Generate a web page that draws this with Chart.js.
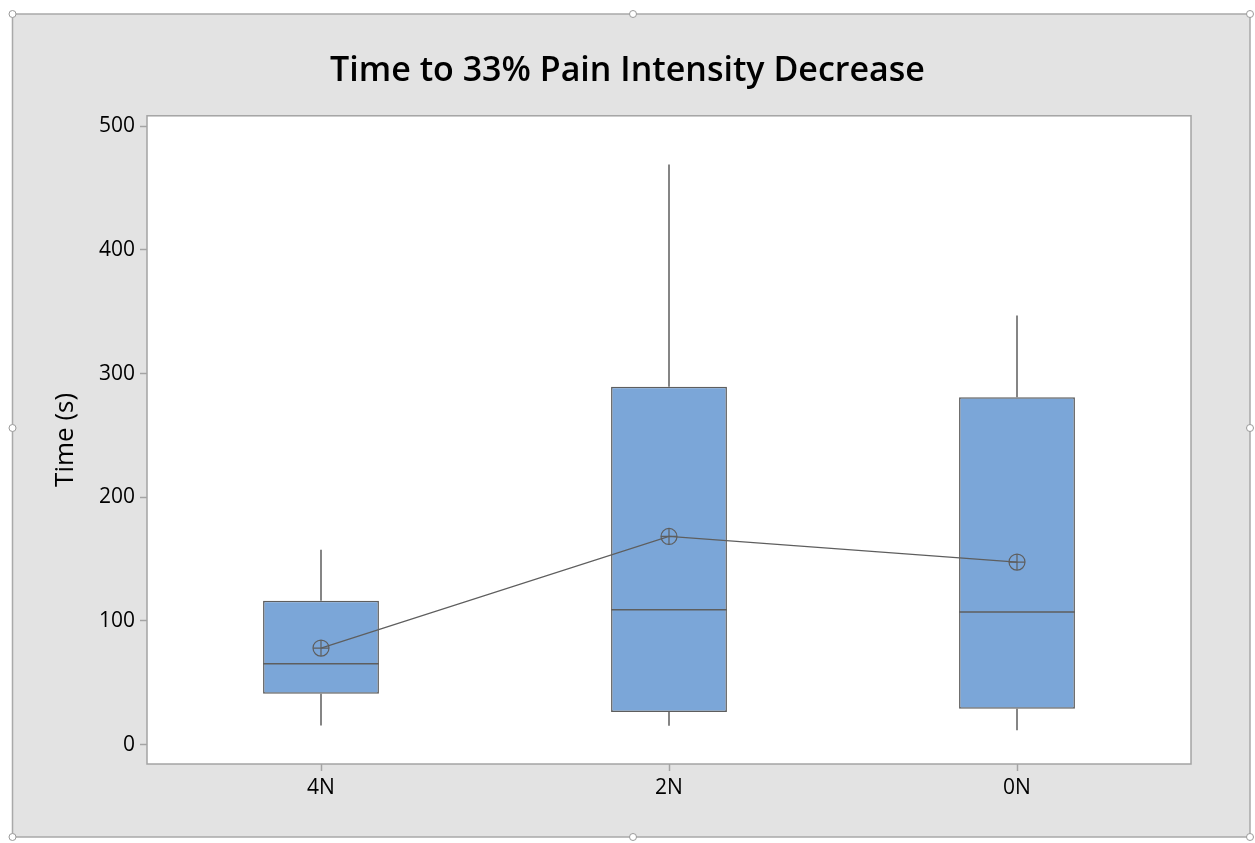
<!DOCTYPE html>
<html>
<head>
<meta charset="utf-8">
<script src="https://cdn.jsdelivr.net/npm/chart.js@4.4.1/dist/chart.umd.min.js"></script>
<style>
  html, body { margin: 0; padding: 0; background: #fff; }
  #wrap { width: 1255px; height: 843px; }
</style>
</head>
<body>
<div id="wrap"><canvas id="boxChart" width="1255" height="843"></canvas></div>
<script>
// groups on the x axis
const groups = ['4N', '2N', '0N'];
// five-number summaries (seconds)
const whiskerLow = [15.6, 15.3, 11.6];
const q1 = [41.2, 26.4, 29.1];
const medians = [65.4, 109.0, 107.2];
const q3 = [116.3, 289.4, 280.9];
const whiskerHigh = [157.5, 469.0, 346.8];
const means = [78.1, 168.3, 147.6];
const yTicks = [0, 100, 200, 300, 400, 500];

const boxFill = '#7ba6d8';
const lineGrey = '#5e5e5e';

// gray panel, selection handles and plot frame
const framePlugin = {
    id: 'framePlugin',
    beforeDraw(chart) {
        const ctx = chart.ctx;
        ctx.save();
        ctx.fillStyle = '#ffffff';
        ctx.fillRect(0, 0, chart.width, chart.height);
        ctx.fillStyle = '#e3e3e3';
        ctx.fillRect(12.5, 14, 1237.5, 823);
        ctx.strokeStyle = '#a9a9a9';
        ctx.lineWidth = 1.5;
        ctx.strokeRect(12.5, 14, 1237.5, 823);
        const handles = [[12.5, 14], [633, 14], [1250, 14], [12.5, 428], [1250, 428],
                         [12.5, 837], [633, 837], [1250, 837]];
        handles.forEach(([hx, hy]) => {
            ctx.beginPath();
            ctx.arc(hx, hy, 3.5, 0, Math.PI * 2);
            ctx.fillStyle = '#ffffff';
            ctx.fill();
            ctx.lineWidth = 1;
            ctx.strokeStyle = '#9a9a9a';
            ctx.stroke();
        });
        ctx.restore();
    },
    beforeDatasetsDraw(chart) {
        const { ctx, chartArea: a, scales } = chart;
        ctx.save();
        ctx.fillStyle = '#ffffff';
        ctx.fillRect(a.left, a.top, a.right - a.left, a.bottom - a.top);
        ctx.strokeStyle = '#a4a4a4';
        ctx.lineWidth = 1.5;
        ctx.strokeRect(a.left, a.top, a.right - a.left, a.bottom - a.top);

        // whiskers, behind the boxes
        const y = scales.y;
        ctx.strokeStyle = lineGrey;
        ctx.lineWidth = 1.5;
        groups.forEach((g, i) => {
            const x = scales.x.getPixelForValue(i);
            ctx.beginPath();
            ctx.moveTo(x, y.getPixelForValue(whiskerLow[i]));
            ctx.lineTo(x, y.getPixelForValue(q1[i]));
            ctx.moveTo(x, y.getPixelForValue(q3[i]));
            ctx.lineTo(x, y.getPixelForValue(whiskerHigh[i]));
            ctx.stroke();
        });
        ctx.restore();
    },
    afterDatasetDraw(chart, args) {
        if (args.index !== 0) return;
        // median lines across each box
        const { ctx, scales } = chart;
        const bars = chart.getDatasetMeta(0).data;
        ctx.save();
        ctx.strokeStyle = lineGrey;
        ctx.lineWidth = 1.5;
        bars.forEach((bar, i) => {
            const my = scales.y.getPixelForValue(medians[i]);
            ctx.beginPath();
            ctx.moveTo(bar.x - bar.width / 2, my);
            ctx.lineTo(bar.x + bar.width / 2, my);
            ctx.stroke();
        });
        ctx.restore();
    }
};

const fontFam = '"Open Sans", "Noto Sans", sans-serif';

new Chart(document.getElementById('boxChart'), {
    type: 'bar',
    data: {
        labels: groups,
        datasets: [
            {
                label: 'IQR',
                data: groups.map((_, i) => [q1[i], q3[i]]),
                backgroundColor: boxFill,
                borderColor: lineGrey,
                borderWidth: 1.5,
                borderSkipped: false,
                barPercentage: 0.333,
                categoryPercentage: 1,
                order: 2
            },
            {
                type: 'line',
                label: 'Mean',
                data: means,
                borderColor: lineGrey,
                borderWidth: 1.2,
                tension: 0,
                pointStyle: 'circle',
                pointRadius: 8,
                pointBorderWidth: 1.2,
                pointBackgroundColor: 'rgba(0,0,0,0)',
                pointBorderColor: lineGrey,
                order: 1
            },
            {
                type: 'line',
                label: 'Mean cross',
                data: means,
                showLine: false,
                pointStyle: 'cross',
                pointRadius: 8,
                pointBorderWidth: 1.2,
                pointBorderColor: lineGrey,
                order: 0
            }
        ]
    },
    options: {
        responsive: false,
        animation: false,
        devicePixelRatio: 1,
        layout: { padding: 0 },
        plugins: {
            legend: { display: false },
            tooltip: { enabled: false },
            title: {
                display: true,
                text: 'Time to 33% Pain Intensity Decrease',
                color: '#000',
                font: { family: fontFam, size: 34, weight: '600', lineHeight: 1.2 },
                padding: { top: 51, bottom: 24 }
            }
        },
        scales: {
            x: {
                offset: true,
                border: { display: false },
                grid: { offset: false, drawOnChartArea: false, drawTicks: true, tickLength: 7, tickColor: '#a4a4a4', tickWidth: 1.5 },
                ticks: { color: '#000', padding: 4, font: { family: fontFam, size: 21 } },
                afterFit(scale) { scale.height = 79; }
            },
            y: {
                min: -15.6,
                max: 508.3,
                border: { display: false },
                grid: { drawOnChartArea: false, drawTicks: true, tickLength: 7, tickColor: '#a4a4a4', tickWidth: 1.5 },
                ticks: { color: '#000', padding: 5, font: { family: fontFam, size: 21 } },
                afterBuildTicks(scale) { scale.ticks = yTicks.map(v => ({ value: v })); },
                afterFit(scale) { scale.width = 147; },
                title: {
                    display: true,
                    text: 'Time (s)',
                    color: '#000',
                    font: { family: fontFam, size: 26 },
                    padding: { top: 50, bottom: 0 }
                }
            },
            // empty right-hand axis that only reserves the gray margin
            yRight: {
                position: 'right',
                display: true,
                border: { display: false },
                grid: { display: false },
                ticks: { display: false },
                afterFit(scale) { scale.width = 64; }
            }
        }
    },
    plugins: [framePlugin]
});
</script>
</body>
</html>
